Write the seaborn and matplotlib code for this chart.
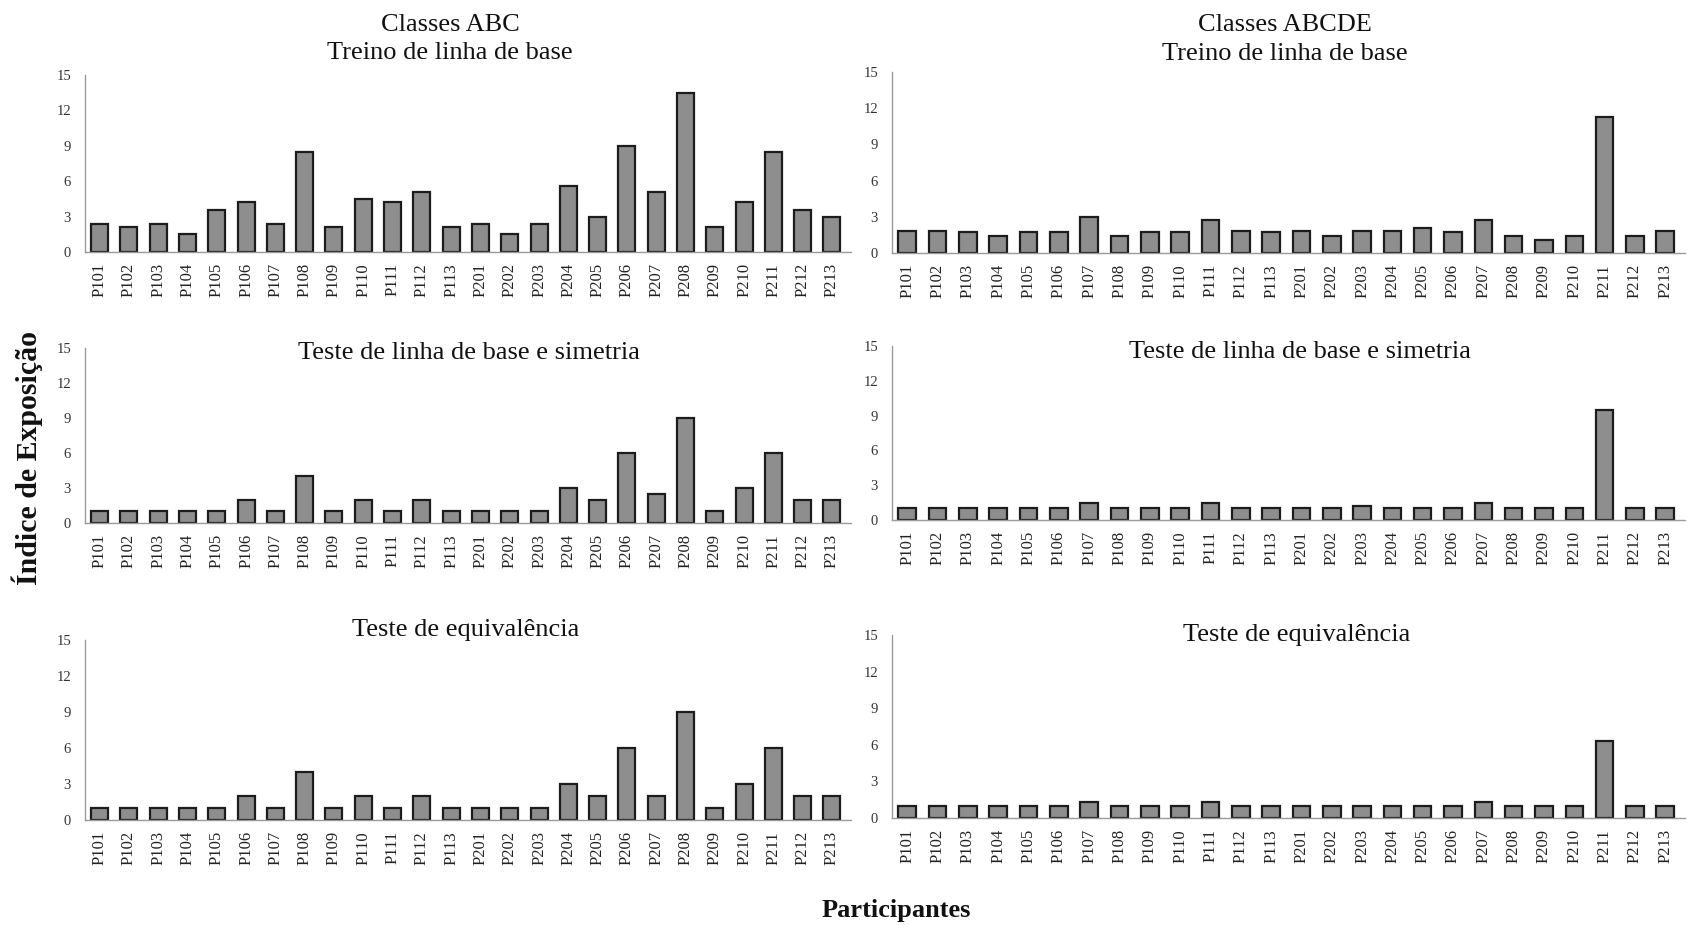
import matplotlib
matplotlib.use("Agg")
import matplotlib.pyplot as plt
from matplotlib.ticker import FixedLocator, NullFormatter
import seaborn as sns
import pandas as pd

# Participants (x categories)
participants = [
    "P101", "P102", "P103", "P104", "P105", "P106", "P107", "P108", "P109",
    "P110", "P111", "P112", "P113",
    "P201", "P202", "P203", "P204", "P205", "P206", "P207", "P208", "P209",
    "P210", "P211", "P212", "P213",
]

# Exposure index per participant, ABC classes
abc_treino = [2.4, 2.1, 2.4, 1.5, 3.6, 4.2, 2.4, 8.5, 2.1, 4.5, 4.2, 5.1, 2.1,
              2.4, 1.5, 2.4, 5.6, 3.0, 9.0, 5.1, 13.5, 2.1, 4.2, 8.5, 3.6, 3.0]
abc_simetria = [1, 1, 1, 1, 1, 2, 1, 4, 1, 2, 1, 2, 1,
                1, 1, 1, 3, 2, 6, 2.5, 9, 1, 3, 6, 2, 2]
abc_equivalencia = [1, 1, 1, 1, 1, 2, 1, 4, 1, 2, 1, 2, 1,
                    1, 1, 1, 3, 2, 6, 2, 9, 1, 3, 6, 2, 2]

# Exposure index per participant, ABCDE classes
abcde_treino = [1.8, 1.8, 1.7, 1.4, 1.7, 1.7, 3.0, 1.4, 1.7, 1.7, 2.7, 1.8, 1.7,
                1.8, 1.4, 1.8, 1.8, 2.1, 1.7, 2.7, 1.4, 1.1, 1.4, 11.3, 1.4, 1.8]
abcde_simetria = [1, 1, 1, 1, 1, 1, 1.5, 1, 1, 1, 1.5, 1, 1,
                  1, 1, 1.25, 1, 1, 1, 1.5, 1, 1, 1, 9.5, 1, 1]
abcde_equivalencia = [1, 1, 1, 1, 1, 1, 1.33, 1, 1, 1, 1.33, 1, 1,
                      1, 1, 1, 1, 1, 1, 1.33, 1, 1, 1, 6.3, 1, 1]

y_ticks = [0, 3, 6, 9, 12, 15]

sns.set_style("white")
plt.rcParams["font.family"] = ["Liberation Serif", "DejaVu Serif"]

W, H = 1695, 925
fig = plt.figure(figsize=(W / 100, H / 100), dpi=100)


def box(left, right, top, bottom):
    return [left / W, 1 - bottom / H, (right - left) / W, (bottom - top) / H]


panels = [
    (abc_treino, box(85, 851, 75, 252)),
    (abcde_treino, box(892, 1685, 72, 253)),
    (abc_simetria, box(85, 851, 348, 523)),
    (abcde_simetria, box(892, 1685, 346, 520)),
    (abc_equivalencia, box(85, 851, 640, 820)),
    (abcde_equivalencia, box(892, 1685, 635, 818)),
]

spine_color = "#9a9a9a"
n = len(participants)

for values, rect in panels:
    ax = fig.add_axes(rect)
    df = pd.DataFrame({"Participante": participants, "Indice": values})
    sns.barplot(data=df, x="Participante", y="Indice", color="#8e8e8e",
                saturation=1, edgecolor="#1c1c1c", linewidth=1.6,
                width=0.58, ax=ax)
    ax.set_xlim(-0.5, n - 0.5 + 0.15)
    ax.set_ylim(0, 15)
    ax.set_yticks(y_ticks)
    ax.set_xlabel("")
    ax.set_ylabel("")
    for s in ("top", "right"):
        ax.spines[s].set_visible(False)
    for s in ("left", "bottom"):
        ax.spines[s].set_color(spine_color)
        ax.spines[s].set_linewidth(1.0)
    # category boundary ticks on the x axis
    ax.xaxis.set_minor_locator(FixedLocator([i - 0.5 for i in range(n + 1)]))
    ax.xaxis.set_minor_formatter(NullFormatter())
    ax.tick_params(axis="x", which="major", length=0, pad=8,
                   labelsize=12, labelrotation=90, labelcolor="#222222")
    ax.tick_params(axis="x", which="minor", length=9, width=1.0,
                   color=spine_color, direction="out")
    ax.tick_params(axis="y", length=6, width=1.0, color=spine_color,
                   labelsize=10.5, labelcolor="#333333", pad=4)

# Panel titles
def ftext(x, y, s, **kw):
    fig.text(x / W, 1 - y / H, s, ha="center", va="center", color="#111111", **kw)


ftext(450, 25, "Classes ABC", fontsize=19)
ftext(450, 53, "Treino de linha de base", fontsize=19)
ftext(1285, 25, "Classes ABCDE", fontsize=19)
ftext(1285, 54, "Treino de linha de base", fontsize=19)
ftext(469, 353, "Teste de linha de base e simetria", fontsize=19)
ftext(1300, 352, "Teste de linha de base e simetria", fontsize=19)
ftext(466, 630, "Teste de equivalência", fontsize=19)
ftext(1297, 635, "Teste de equivalência", fontsize=19)

# Shared axis labels
ftext(27, 458, "Índice de Exposição", fontsize=21.5, fontweight="bold", rotation=90)
ftext(896, 910, "Participantes", fontsize=19, fontweight="bold")

fig.savefig("out.png", dpi=100, facecolor="white")
